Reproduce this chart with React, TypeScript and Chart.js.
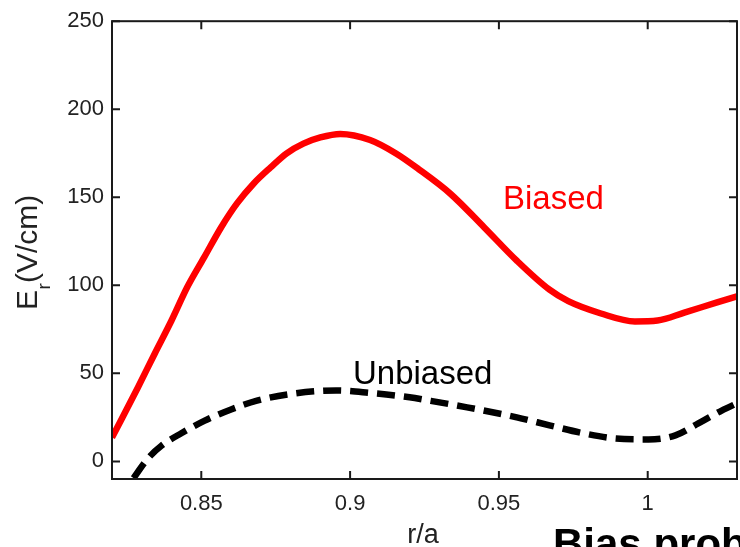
import React, { useEffect, useRef } from "react";
import { Chart, registerables } from "chart.js";

Chart.register(...registerables);

const biasedR = [0.82, 0.8287, 0.8343, 0.84, 0.8453, 0.851, 0.8567, 0.862, 0.8677, 0.8733, 0.8787, 0.8843, 0.89, 0.8967, 0.9067, 0.9153, 0.923, 0.9337, 0.945, 0.956, 0.967, 0.9733, 0.9843, 0.9957, 1.0033, 1.0123, 1.0233, 1.03];
const biasedV = [13.5, 42, 61, 80, 99, 116, 133, 146.5, 158, 167, 175, 180.5, 184, 186, 182.5, 175, 166, 152, 133, 114, 97.5, 91, 84, 79.5, 80, 84.5, 90.3, 93.7];

const unbiasedR = [0.822, 0.8267, 0.832, 0.8367, 0.8433, 0.851, 0.86, 0.8687, 0.88, 0.8953, 0.9067, 0.92, 0.926, 0.9393, 0.956, 0.967, 0.9783, 0.9893, 1.0003, 1.0093, 1.017, 1.025, 1.03];
const unbiasedV = [-22, -10.8, 1.5, 9, 16, 23, 29.5, 34.5, 38.3, 40.3, 38.9, 36.4, 34.7, 30.7, 25, 20.5, 16, 13, 12.5, 14.8, 21.6, 29, 33];

const xMin = 0.82;
const xMax = 1.03;
const yMin = -10;
const yMax = 250;
const xStep = 0.05;
const yStep = 50;

const FONT = "'Liberation Sans', Arial, Helvetica, sans-serif";

const frameTicks = {
  id: "frameTicks",
  afterDraw(chart: any) {
    const { ctx, chartArea } = chart;
    const { left, right, top, bottom } = chartArea;
    const xs = chart.scales.x;
    const ys = chart.scales.y;
    ctx.save();
    ctx.strokeStyle = "#1a1a1a";
    ctx.lineWidth = 2;
    ctx.strokeRect(left, top, right - left, bottom - top);
    const tl = 8;
    ctx.beginPath();
    xs.ticks.forEach((t: any) => {
      const px = xs.getPixelForValue(t.value);
      ctx.moveTo(px, bottom);
      ctx.lineTo(px, bottom - tl);
      ctx.moveTo(px, top);
      ctx.lineTo(px, top + tl);
    });
    ys.ticks.forEach((t: any) => {
      const py = ys.getPixelForValue(t.value);
      ctx.moveTo(left, py);
      ctx.lineTo(left + tl, py);
      ctx.moveTo(right, py);
      ctx.lineTo(right - tl, py);
    });
    ctx.stroke();
    ctx.restore();
  },
};

const annotations = {
  id: "annotations",
  afterDraw(chart: any) {
    const { ctx } = chart;
    ctx.save();
    ctx.textBaseline = "alphabetic";
    ctx.textAlign = "left";
    ctx.font = `33px ${FONT}`;
    ctx.fillStyle = "#ff0000";
    ctx.fillText("Biased", 503, 209);
    ctx.fillStyle = "#000";
    ctx.fillText("Unbiased", 353, 384);
    ctx.font = `27px ${FONT}`;
    ctx.fillStyle = "#222";
    ctx.textAlign = "center";
    ctx.fillText("r/a", 423, 543);
    ctx.textAlign = "left";
    ctx.font = `bold 42px ${FONT}`;
    ctx.fillStyle = "#000";
    ctx.fillText("Bias probe", 553, 558);
    ctx.save();
    ctx.translate(37, 310);
    ctx.rotate(-Math.PI / 2);
    ctx.fillStyle = "#222";
    ctx.font = `30px ${FONT}`;
    ctx.fillText("E", 0, 0);
    const wE = ctx.measureText("E").width;
    ctx.font = `19px ${FONT}`;
    ctx.fillText("r", wE + 0.5, 13);
    ctx.font = `30px ${FONT}`;
    ctx.fillText("(V/cm)", wE + 7, 0);
    ctx.restore();
    ctx.restore();
  },
};

export default function App() {
  const ref = useRef<HTMLCanvasElement | null>(null);
  useEffect(() => {
    if (!ref.current) return;
    const chart = new Chart(ref.current, {
      type: "line",
      data: {
        datasets: [
          {
            label: "Biased",
            data: biasedR.map((r, i) => ({ x: r, y: biasedV[i] })),
            borderColor: "#ff0000",
            borderWidth: 6.5,
            pointRadius: 0,
            cubicInterpolationMode: "monotone",
            fill: false,
          },
          {
            label: "Unbiased",
            data: unbiasedR.map((r, i) => ({ x: r, y: unbiasedV[i] })),
            borderColor: "#000",
            borderWidth: 6.5,
            borderDash: [18, 9],
            pointRadius: 0,
            cubicInterpolationMode: "monotone",
            fill: false,
          },
        ],
      },
      options: {
        animation: false,
        responsive: false,
        layout: { padding: { top: 21, right: 3, left: 0, bottom: 0 } },
        plugins: {
          legend: { display: false },
          tooltip: { enabled: false },
          title: { display: false },
        },
        scales: {
          x: {
            type: "linear",
            min: xMin,
            max: xMax,
            grid: { display: false, drawTicks: false },
            border: { display: false },
            afterFit: (s: any) => {
              s.height = 68;
            },
            ticks: {
              stepSize: xStep,
              includeBounds: false,
              padding: 12,
              color: "#222",
              font: { family: FONT, size: 22 },
              maxRotation: 0,
              callback: (v: any) => String(Number(Number(v).toFixed(2))),
            },
          },
          y: {
            type: "linear",
            min: yMin,
            max: yMax,
            grid: { display: false, drawTicks: false },
            border: { display: false },
            afterFit: (s: any) => {
              s.width = 112;
            },
            ticks: {
              stepSize: yStep,
              includeBounds: false,
              padding: 8,
              color: "#222",
              font: { family: FONT, size: 22 },
              callback: (v: any) => String(v),
            },
          },
        },
      },
      plugins: [frameTicks, annotations],
    });
    return () => chart.destroy();
  }, []);
  return (
    <div style={{ position: "absolute", left: 0, top: 0, width: 740, height: 547, background: "#fff" }}>
      <canvas ref={ref} width={740} height={547} />
    </div>
  );
}
